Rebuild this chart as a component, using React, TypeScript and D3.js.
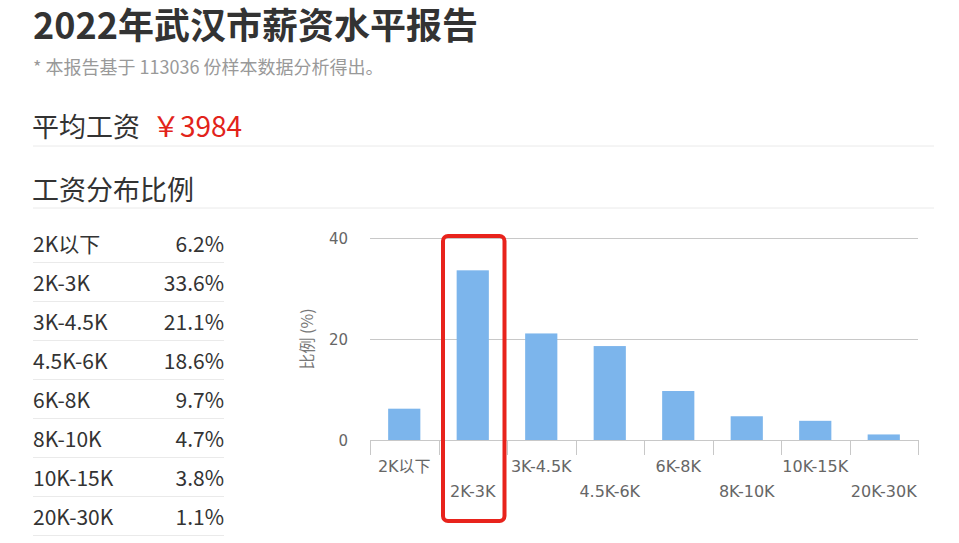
import React, { useEffect, useRef } from 'react';
import * as d3 from 'd3';

const title = '2022年武汉市薪资水平报告';
const subtitle = '* 本报告基于 113036 份样本数据分析得出。';
const avgLabel = '平均工资';
const avgValue = '￥3984';
const distLabel = '工资分布比例';

const categories = ['2K以下', '2K-3K', '3K-4.5K', '4.5K-6K', '6K-8K', '8K-10K', '10K-15K', '20K-30K'];
const shares = [6.2, 33.6, 21.1, 18.6, 9.7, 4.7, 3.8, 1.1];
const yTicks = [0, 20, 40];
const highlighted = '2K-3K';

const CJK = '"Microsoft YaHei", "Noto Sans CJK SC", "Noto Sans", sans-serif';
const AXIS_FONT = '"DejaVu Sans", "Noto Sans CJK SC", sans-serif';

export default function App() {
  const svgRef = useRef<SVGSVGElement>(null);

  useEffect(() => {
    if (!svgRef.current) return;
    const svg = d3.select(svgRef.current);
    svg.selectAll('*').remove();

    // header texts
    svg.append('text')
      .attr('x', 33).attr('y', 39)
      .style('font-family', CJK).style('font-size', '36px').style('font-weight', 'bold')
      .style('fill', '#333')
      .text(title);

    svg.append('text')
      .attr('x', 33).attr('y', 74)
      .style('font-family', CJK).style('font-size', '18px')
      .style('fill', '#999')
      .text(subtitle);

    const avg = svg.append('text')
      .attr('x', 32).attr('y', 137)
      .style('font-family', CJK).style('font-size', '27px')
      .style('fill', '#333');
    avg.append('tspan').text(avgLabel);
    avg.append('tspan').attr('dx', 12).style('fill', '#e2231a').style('font-size', '28px').text(avgValue);

    svg.append('line')
      .attr('x1', 33).attr('x2', 934).attr('y1', 146).attr('y2', 146)
      .style('stroke', '#eaeaea').style('stroke-width', 1);

    svg.append('text')
      .attr('x', 32).attr('y', 200)
      .style('font-family', CJK).style('font-size', '27px')
      .style('fill', '#333')
      .text(distLabel);

    svg.append('line')
      .attr('x1', 33).attr('x2', 934).attr('y1', 208).attr('y2', 208)
      .style('stroke', '#eaeaea').style('stroke-width', 1);

    // table on the left
    const rowY = d3.scaleBand<string>().domain(categories).range([224, 536]);
    const rows = svg.append('g').selectAll('g')
      .data(categories)
      .enter()
      .append('g')
      .attr('transform', d => `translate(0,${rowY(d)})`);

    rows.append('text')
      .attr('x', 33).attr('y', 28)
      .style('font-family', CJK).style('font-size', '21px').style('fill', '#333')
      .text(d => d);

    rows.append('text')
      .attr('x', 224).attr('y', 28)
      .style('text-anchor', 'end')
      .style('font-family', CJK).style('font-size', '21px').style('fill', '#333')
      .text((d, i) => `${shares[i]}%`);

    rows.append('line')
      .attr('x1', 33).attr('x2', 224)
      .attr('y1', rowY.bandwidth() - 0.5).attr('y2', rowY.bandwidth() - 0.5)
      .style('stroke', '#eaeaea');

    // bar chart
    const x = d3.scaleBand<string>().domain(categories).range([370, 918]).padding(0);
    const xBar = d3.scaleBand<string>().domain(categories).range([370, 918])
      .paddingInner(0.53).paddingOuter(0.265);
    const y = d3.scaleLinear().domain([0, 40]).range([440, 238]);

    const grid = svg.append('g');
    grid.selectAll('line')
      .data(yTicks.filter(t => t > 0))
      .enter()
      .append('line')
      .attr('x1', 370).attr('x2', 918)
      .attr('y1', d => Math.round(y(d)) + 0.5).attr('y2', d => Math.round(y(d)) + 0.5)
      .style('stroke', '#c8c8c8');

    grid.selectAll('text')
      .data(yTicks)
      .enter()
      .append('text')
      .attr('x', 348).attr('y', d => y(d) + 6)
      .style('text-anchor', 'end')
      .style('font-family', AXIS_FONT).style('font-size', '15px').style('fill', '#666')
      .text(d => d);

    svg.append('text')
      .attr('transform', `translate(313,${y(20)}) rotate(-90)`)
      .style('text-anchor', 'middle')
      .style('font-family', CJK).style('font-size', '16px').style('fill', '#777')
      .text('比例 (%)');

    svg.append('g').selectAll('rect')
      .data(categories)
      .enter()
      .append('rect')
      .attr('x', d => xBar(d)!)
      .attr('width', xBar.bandwidth())
      .attr('y', (d, i) => y(shares[i]))
      .attr('height', (d, i) => y(0) - y(shares[i]))
      .style('fill', '#7cb5ec');

    // x axis
    const axis = svg.append('g');
    axis.append('line')
      .attr('x1', 370).attr('x2', 918).attr('y1', 440.5).attr('y2', 440.5)
      .style('stroke', '#c8c8c8');

    const bounds = categories.map(c => x(c)!).concat([918]);
    axis.selectAll('line.tick')
      .data(bounds)
      .enter()
      .append('line')
      .attr('class', 'tick')
      .attr('x1', d => Math.round(d) + 0.5).attr('x2', d => Math.round(d) + 0.5)
      .attr('y1', 440).attr('y2', 455)
      .style('stroke', '#c8c8c8');

    axis.selectAll('text')
      .data(categories)
      .enter()
      .append('text')
      .attr('x', d => x(d)! + x.bandwidth() / 2)
      .attr('y', (d, i) => (i % 2 === 0 ? 472 : 497))
      .style('text-anchor', 'middle')
      .style('font-family', AXIS_FONT).style('font-size', '16px').style('fill', '#666')
      .text(d => d);

    // red highlight box
    svg.append('rect')
      .attr('x', x(highlighted)! + 4.5)
      .attr('width', x.bandwidth() - 7)
      .attr('y', 236)
      .attr('height', 285)
      .attr('rx', 5)
      .style('fill', 'none')
      .style('stroke', '#e8231c')
      .style('stroke-width', 4);
  }, []);

  return (
    <svg
      ref={svgRef}
      width={959}
      height={543}
      style={{ position: 'absolute', left: 0, top: 0, background: '#fff' }}
    />
  );
}
